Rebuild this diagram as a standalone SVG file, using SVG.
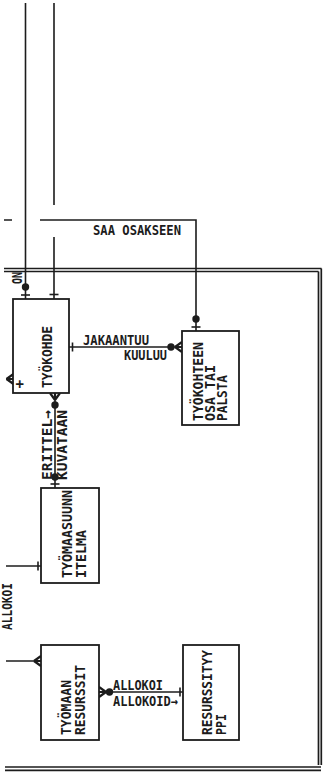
<svg xmlns="http://www.w3.org/2000/svg" xmlns:xlink="http://www.w3.org/1999/xlink" width="323" height="773" viewBox="0 0 323 773">
<style>
.ln{stroke:#1c1c1c;stroke-width:1.6;fill:none}
.cw{stroke:#1c1c1c;stroke-width:2.2;fill:none}
.fr{stroke:#1c1c1c;stroke-width:1.7;fill:none}
.box{fill:#fff;stroke:#1c1c1c;stroke-width:1.8}
.dt{fill:#1c1c1c}
.t{font-family:"DejaVu Sans Mono","Liberation Mono",monospace;font-weight:bold;font-size:14px;fill:#1c1c1c}
</style>
<defs>
<path id="crow" class="cw" d="M0,0 L7,-5 M0,0 L7,0 M0,0 L7,5"/>
<path id="bar" class="ln" d="M0,-4.5 V4.5"/>
<circle id="dot" class="dt" r="3.7"/>
</defs>
<rect width="323" height="773" fill="#fff"/>
<g id="frame">
<path class="fr" d="M4,268.5 H321.5 M4,271.5 H318.5 M318.5,271.5 V765 M321.3,268.5 V765 M5,767 H321 M5,770.3 H321"/>
</g>
<g id="connectors">
<path class="ln" d="M25.5,3 V299"/>
<use xlink:href="#dot" x="25.5" y="287"/>
<use xlink:href="#bar" transform="translate(25.5,295) rotate(90)"/>
<path class="ln" d="M54,3 V205 M54,237 V299"/>
<use xlink:href="#bar" transform="translate(54,294.5) rotate(90)"/>
<path class="ln" d="M4,220 H12 M40,220 H196 V331"/>
<use xlink:href="#dot" x="196" y="319"/>
<use xlink:href="#bar" transform="translate(196,327) rotate(90)"/>
<path class="ln" d="M69,347 H182"/>
<use xlink:href="#bar" transform="translate(72.5,347)"/>
<use xlink:href="#dot" x="171" y="347"/>
<use xlink:href="#crow" transform="translate(175,347)"/>
<path class="ln" d="M6,379 H13"/>
<use xlink:href="#crow" transform="translate(6.5,379)"/>
<path class="ln" d="M55,393 V488"/>
<use xlink:href="#crow" transform="translate(55,400) rotate(-90)"/>
<use xlink:href="#dot" x="55" y="405"/>
<use xlink:href="#dot" x="55" y="477"/>
<use xlink:href="#bar" transform="translate(55,484) rotate(90)"/>
<path class="ln" d="M6,566 H41"/>
<use xlink:href="#bar" transform="translate(38,566)"/>
<path class="ln" d="M6,661 H41"/>
<use xlink:href="#crow" transform="translate(34,661)"/>
<path class="ln" d="M99,692 H183"/>
<use xlink:href="#crow" transform="translate(106,692) rotate(180)"/>
<use xlink:href="#dot" x="109.5" y="692"/>
<use xlink:href="#bar" transform="translate(180,692)"/>
<text class="t" x="93" y="235" font-size="15" textLength="88" lengthAdjust="spacingAndGlyphs">SAA OSAKSEEN</text>
<text class="t" transform="translate(21.5,284) rotate(-90)" font-size="11" textLength="12" lengthAdjust="spacingAndGlyphs">ON</text>
<text class="t" x="83" y="345" textLength="66" lengthAdjust="spacingAndGlyphs">JAKAANTUU</text>
<text class="t" x="124" y="360" textLength="43" lengthAdjust="spacingAndGlyphs">KUULUU</text>
<text class="t" transform="translate(52,480) rotate(-90)" textLength="70" lengthAdjust="spacingAndGlyphs">ERITTEL→</text>
<text class="t" transform="translate(67,480) rotate(-90)" textLength="70" lengthAdjust="spacingAndGlyphs">KUVATAAN</text>
<text class="t" transform="translate(11.5,630) rotate(-90)" textLength="47" lengthAdjust="spacingAndGlyphs">ALLOKOI</text>
<text class="t" x="113" y="690" textLength="50" lengthAdjust="spacingAndGlyphs">ALLOKOI</text>
<text class="t" x="113" y="706" textLength="65" lengthAdjust="spacingAndGlyphs">ALLOKOID→</text>
</g>
<g id="n_tyokohde">
<rect class="box" x="13" y="299" width="56" height="94"/>
<text class="t" transform="translate(52,388) rotate(-90)" textLength="62" lengthAdjust="spacingAndGlyphs">TYÖKOHDE</text>
<text class="t" x="15.5" y="389" font-size="12">+</text>
</g>
<g id="n_osa">
<rect class="box" x="182" y="331" width="57" height="94"/>
<text class="t" transform="translate(203,421) rotate(-90)" textLength="79" lengthAdjust="spacingAndGlyphs">TYÖKOHTEEN</text>
<text class="t" transform="translate(215,421) rotate(-90)" textLength="56" lengthAdjust="spacingAndGlyphs">OSA TAI</text>
<text class="t" transform="translate(227,421) rotate(-90)" textLength="46" lengthAdjust="spacingAndGlyphs">PALSTA</text>
</g>
<g id="n_suunnitelma">
<rect class="box" x="41" y="488" width="58" height="95"/>
<text class="t" transform="translate(72,578) rotate(-90)" textLength="88" lengthAdjust="spacingAndGlyphs">TYÖMAASUUNN</text>
<text class="t" transform="translate(86,578) rotate(-90)" textLength="48" lengthAdjust="spacingAndGlyphs">ITELMA</text>
</g>
<g id="n_resurssit">
<rect class="box" x="41" y="645" width="58" height="95"/>
<text class="t" transform="translate(71,735) rotate(-90)" textLength="55" lengthAdjust="spacingAndGlyphs">TYÖMAAN</text>
<text class="t" transform="translate(85,735) rotate(-90)" textLength="70" lengthAdjust="spacingAndGlyphs">RESURSSIT</text>
</g>
<g id="n_tyyppi">
<rect class="box" x="183" y="645" width="56" height="95"/>
<text class="t" transform="translate(212,735) rotate(-90)" textLength="85" lengthAdjust="spacingAndGlyphs">RESURSSITYY</text>
<text class="t" transform="translate(226,735) rotate(-90)" textLength="21" lengthAdjust="spacingAndGlyphs">PPI</text>
</g>
</svg>
